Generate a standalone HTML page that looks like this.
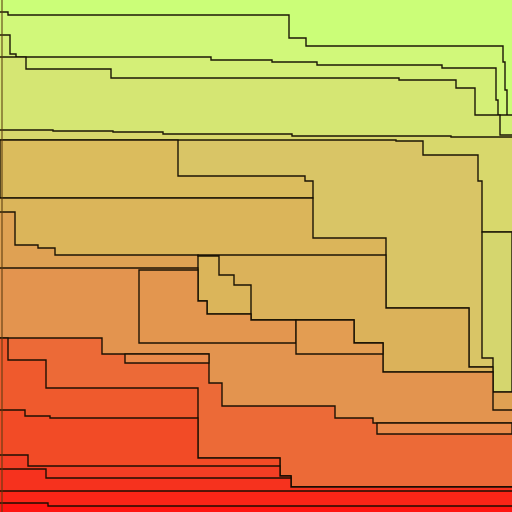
<!DOCTYPE html>
<html><head><meta charset="utf-8">
<style>html,body{margin:0;padding:0;background:#ccff77;}svg{display:block}</style>
</head><body>
<svg id="chart" width="512" height="512" viewBox="0 0 512 512" xmlns="http://www.w3.org/2000/svg">
<rect x="0" y="0" width="512" height="512" fill="#cbfe78"/>
<g id="regions"></g>
</svg>
<script>
// Step-boundary data (value units 0..512 on each axis)
const b1X=[0,8,8,289,289,306,306,503,503,505,505,507,507,512];
const b1Y=[12,12,15,15,38,38,46,46,62,62,90,90,128,128];
const b2X=[0,10,10,16,16,211,211,272,272,317,317,442,442,496,496,498,498,512];
const b2Y=[35,35,54,54,57,57,60,60,62,62,65,65,68,68,100,100,115,115];
const b3X=[0,26,26,111,111,399,399,456,456,475,475,500,500,512];
const b3Y=[57,57,69,69,78,78,80,80,88,88,115,115,135,135];
const b4X=[0,53,53,113,113,163,163,292,292,451,451,512];
const b4Y=[130,130,131,131,132,132,134,134,136,136,137,137];
const b5X=[0,396,396,423,423,478,478,482,482,512];
const b5Y=[140,140,141,141,155,155,181,181,232,232];
const cX=[0,178,178,305,305,313,313,0];
const cY=[140,140,176,176,181,181,198,198];
const dX=[0,313,313,386,386,469,469,493,493,512];
const dY=[198,198,238,238,308,308,367,367,392,392];
const gX=[482,512,512,493,493,482];
const gY=[232,232,392,392,358,358];
const eX=[0,15,15,38,38,55,55,198,198,207,207,296,296,354,354,383,383,493,493,512];
const eY=[212,212,245,245,248,248,255,255,301,301,316,316,320,320,343,343,372,372,392,392];
const tX=[198,386,386,469,469,493,493,383,383,354,354,251,251,234,234,219,219,198];
const tY=[255,255,308,308,367,367,372,372,343,343,320,320,285,285,275,275,256,256];
const fX=[0,198,198,207,207,251,251,354,354,383,383,493,493,512];
const fY=[268,268,301,301,314,314,320,320,343,343,372,372,410,410];
const boxX=[139,198,198,207,207,251,251,296,296,139];
const boxY=[270,270,301,301,314,314,320,320,343,343];
const box2X=[296,354,354,383,383,296];
const box2Y=[320,320,343,343,354,354];
const hX=[0,102,102,209,209,222,222,335,335,373,373,512];
const hY=[338,338,354,354,383,383,406,406,418,418,423,423];
const h2X=[125,209,209,125];
const h2Y=[354,354,363,363];
const h3X=[377,512,512,377];
const h3Y=[423,423,434,434];
const iX=[0,8,8,46,46,198,198,280,280,291,291,512];
const iY=[338,338,360,360,388,388,458,458,476,476,487,487];
const jX=[0,25,25,50,50,198,198,280,280,291,291,512];
const jY=[410,410,416,416,418,418,458,458,476,476,487,487];
const kX=[0,28,28,280,280,291,291,512];
const kY=[455,455,466,466,476,476,487,487];
const lX=[0,46,46,280,280,291,291,512];
const lY=[469,469,478,478,478,478,487,487];
const mX=[0,512];
const mY=[491,491];
const nX=[0,48,48,512];
const nY=[503,503,506,506];

const sx=v=>v*512/512, sy=v=>v*512/512;
const g=document.getElementById('regions');
const NS='http://www.w3.org/2000/svg';
function draw(xs,ys,fill,closed,name){
  let d='M'+sx(xs[0])+','+sy(ys[0]);
  for(let i=1;i<xs.length;i++) d+='L'+sx(xs[i])+','+sy(ys[i]);
  let fd=d;
  if(!closed){ fd+='L512,512L0,512Z'; } else { fd+='Z'; }
  const p=document.createElementNS(NS,'path');
  p.setAttribute('d',fd);p.setAttribute('fill',fill);
  
  
  g.appendChild(p);
  const l=document.createElementNS(NS,'path');
  l.setAttribute('d',closed?d+'Z':d);l.setAttribute('fill','none');
  l.setAttribute('stroke','#120c00');l.setAttribute('stroke-width','1.4');l.setAttribute('stroke-opacity','0.95');
  
  
  g.appendChild(l);
}
draw(b1X,b1Y,'#d1f87a',false,'band-1');
draw(b2X,b2Y,'#d4ef77',false,'band-2');
draw(b3X,b3Y,'#d5e673',false,'band-3');
draw(b4X,b4Y,'#d8d86c',false,'band-4');
draw(b5X,b5Y,'#d9c566',false,'band-5');
draw(cX,cY,'#dbbc5d',true,'band-6');
draw(dX,dY,'#dbb55a',false,'band-7');
draw(gX,gY,'#d5d66e',true,'band-right-column');
draw(eX,eY,'#dfa153',false,'band-8');
draw(tX,tY,'#dbb25a',true,'band-8-inner');
draw(fX,fY,'#e3944f',false,'band-9');
draw(boxX,boxY,'#e3964f',true,'band-9-box');
draw(box2X,box2Y,'#e39d52',true,'band-9-box-2');
draw(hX,hY,'#ec6a37',false,'band-10');
draw(iX,iY,'#ef5a2d',false,'band-11');
draw(h2X,h2Y,'#e98a4a',true,'band-11-box');
draw(h3X,h3Y,'#e98a4a',true,'band-10-box');
draw(jX,jY,'#f24b26',false,'band-12');
draw(kX,kY,'#f43e24',false,'band-13');
draw(lX,lY,'#f6321e',false,'band-14');
draw(mX,mY,'#fb2517',false,'band-15');
draw(nX,nY,'#ff1410',false,'band-16');
const ln=document.createElementNS(NS,'line');
ln.setAttribute('x1','2');ln.setAttribute('y1','0');ln.setAttribute('x2','2');ln.setAttribute('y2','512');
ln.setAttribute('stroke','#5a3a10');ln.setAttribute('stroke-width','1.5');ln.setAttribute('stroke-opacity','0.7');


g.appendChild(ln);
</script>
</body></html>
